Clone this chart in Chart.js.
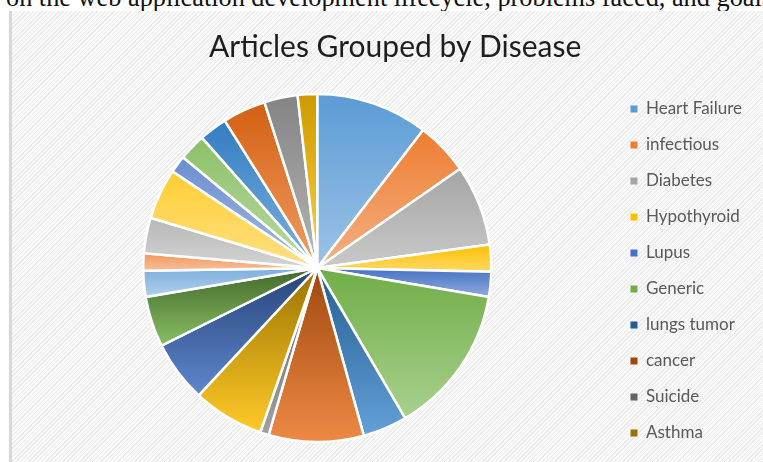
<!DOCTYPE html>
<html>
<head>
<meta charset="utf-8">
<script src="https://cdn.jsdelivr.net/npm/chart.js@4.4.1/dist/chart.umd.min.js"></script>
<style>
  html, body { margin: 0; padding: 0; background: #fff; }
  body { width: 763px; height: 462px; position: relative; overflow: hidden; }
  #paper-line {
    position: absolute; left: 6px; top: -15px; white-space: nowrap;
    font-family: 'Liberation Serif', 'Times New Roman', serif; font-size: 26.3px; line-height: 26px; color: #111;
  }
  #panel {
    position: absolute; left: 9px; top: 11px; width: 751px; height: 451px;
    border-left: 3px solid #d8d8d8;
    background: repeating-linear-gradient(135deg, #ebebeb 0px, #ebebeb 1px, #f9f9f9 1px, #f9f9f9 3px);
  }
  #panel canvas { display: block; }
</style>
</head>
<body>
<div id="paper-line">on the web application development lifecycle, problems faced, and goals</div>
<div id="panel"><canvas id="disease-chart" width="751" height="451"></canvas></div>
<script>
// legend names (Excel only shows the first ten)
const diseases = ['Heart Failure', 'infectious', 'Diabetes', 'Hypothyroid', 'Lupus',
    'Generic', 'lungs tumor', 'cancer', 'Suicide', 'Asthma'];

// share of articles per slice, % (read clockwise from 12 o'clock)
const shares = [10.4, 4.9, 7.5, 2.5, 2.3, 13.9, 4.1, 8.8, 0.8, 6.6, 5.7,
    4.7, 2.4, 1.6, 3.3, 4.7, 1.6, 2.5, 2.6, 4.0, 3.1, 1.8];

// office 2013 series palette
const sliceColors = ['#5B9BD5', '#ED7D31', '#A5A5A5', '#FFC000', '#4472C4', '#70AD47',
    '#255E91', '#9E480E', '#636363', '#997300', '#264478', '#43682B',
    '#7CAFDD', '#F1975A', '#B7B7B7', '#FFCD33', '#698ED0', '#8CC168',
    '#327DC2', '#D26012', '#848484', '#CC9A00'];

const PIE_RADIUS = 174;

const toHsl = (hex) => {
    const r = parseInt(hex.slice(1, 3), 16) / 255;
    const g = parseInt(hex.slice(3, 5), 16) / 255;
    const b = parseInt(hex.slice(5, 7), 16) / 255;
    const max = Math.max(r, g, b), min = Math.min(r, g, b);
    const l = (max + min) / 2;
    let h = 0, s = 0;
    if (max !== min) {
        const d = max - min;
        s = l > 0.5 ? d / (2 - max - min) : d / (max + min);
        if (max === r) h = (g - b) / d + (g < b ? 6 : 0);
        else if (max === g) h = (b - r) / d + 2;
        else h = (r - g) / d + 4;
        h *= 60;
    }
    return { h, s: s * 100, l: l * 100 };
};

const tint = (hex) => {
    const c = toHsl(hex);
    return `hsl(${c.h.toFixed(1)}, ${c.s.toFixed(1)}%, ${(c.l * 0.6 + 40).toFixed(1)}%)`;
};

// each slice gets its own top-to-bottom gradient, like the Excel style
const sliceFill = (context) => {
    const chart = context.chart;
    const area = chart.chartArea;
    const i = context.dataIndex;
    if (context.type !== 'data' || !area) return sliceColors[i] || sliceColors[0];
    const base = sliceColors[i];
    const cy = (area.top + area.bottom) / 2;
    const total = shares.reduce((a, b) => a + b, 0);
    let before = 0;
    for (let k = 0; k < i; k++) before += shares[k];
    const t0 = before / total * 2 * Math.PI;
    const t1 = (before + shares[i]) / total * 2 * Math.PI;
    const ys = [cy, cy - PIE_RADIUS * Math.cos(t0), cy - PIE_RADIUS * Math.cos(t1)];
    if (t0 <= 0.0001) ys.push(cy - PIE_RADIUS);
    if (t0 < Math.PI && t1 > Math.PI) ys.push(cy + PIE_RADIUS);
    const top = Math.min(...ys);
    const bottom = Math.max(...ys);
    const grad = chart.ctx.createLinearGradient(0, top, 0, bottom + 0.01);
    grad.addColorStop(0, base);
    grad.addColorStop(1, tint(base));
    return grad;
};

const ctx = document.getElementById('disease-chart').getContext('2d');
new Chart(ctx, {
    type: 'pie',
    data: {
        labels: diseases,
        datasets: [{
            data: shares,
            backgroundColor: sliceFill,
            borderColor: '#ffffff',
            borderWidth: 2.5,
        }],
    },
    options: {
        responsive: false,
        animation: false,
        radius: PIE_RADIUS,
        layout: { padding: { left: 11, right: 11, top: 0, bottom: 0 } },
        plugins: {
            title: {
                display: true,
                text: '  Articles Grouped by Disease',
                color: '#1e1e1e',
                font: { family: 'Lato', size: 30, weight: 'normal' },
                padding: { top: 18, bottom: 9 },
            },
            legend: {
                position: 'right',
                fullSize: false,
                // empty title only nudges the items down a little
                title: { display: true, text: '', padding: 0, font: { size: 6, lineHeight: 1 } },
                labels: {
                    boxWidth: 7,
                    boxHeight: 7,
                    padding: 19,
                    color: '#595959',
                    font: { family: 'Lato', size: 17 },
                    generateLabels: () => diseases.map((text, i) => ({
                        text,
                        fillStyle: sliceColors[i],
                        strokeStyle: sliceColors[i],
                        lineWidth: 0,
                        fontColor: '#595959',
                        hidden: false,
                        index: i,
                    })),
                },
            },
            tooltip: { enabled: false },
        },
    },
});
</script>
</body>
</html>
